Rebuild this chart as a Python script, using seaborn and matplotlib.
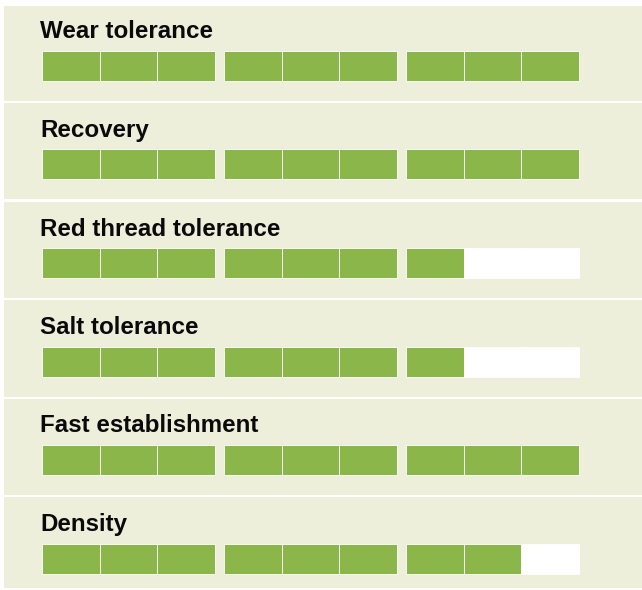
import matplotlib
matplotlib.use("Agg")
import matplotlib.pyplot as plt
import pandas as pd
import seaborn as sns

# ratings out of 9 for each trait
traits = ["Wear tolerance", "Recovery", "Red thread tolerance",
          "Salt tolerance", "Fast establishment", "Density"]
scores = [9, 9, 7, 7, 9, 8]
max_score = 9
group_size = 3

GREEN = "#8BB64A"
EMPTY = "#FFFFFF"
BG = "#EDEFDB"

W, H = 642, 590
seg_px = 57.67      # width of one segment in pixels
gap_px = 9          # extra space between groups of three
bar_h_px = 30
g = gap_px / seg_px

sns.set_style("white")
plt.rcParams["font.family"] = ["Liberation Sans", "DejaVu Sans"]

fig = plt.figure(figsize=(W / 100, H / 100), dpi=100, facecolor="white")

for i, (trait, score) in enumerate(zip(traits, scores)):
    ref = 4.5 + i * 98.5
    top_px = 6 if i == 0 else ref
    bot_px = min(ref + 96.5, 588)
    bar_top = ref + 46.5
    bar_bot = bar_top + bar_h_px

    ax = fig.add_axes([4 / W, 1 - bot_px / H, (W - 4) / W, (bot_px - top_px) / H])
    ax.set_facecolor(BG)

    df = pd.DataFrame({
        "pos": [(k // group_size) * (group_size + g) + k % group_size for k in range(max_score)],
        "value": [1] * max_score,
        "state": ["filled" if k < score else "empty" for k in range(max_score)],
    })
    sns.barplot(data=df, x="pos", y="value", hue="state",
                palette={"filled": GREEN, "empty": EMPTY},
                native_scale=True, dodge=False, width=1, saturation=1,
                edgecolor="white", linewidth=0.6, legend=False, ax=ax)

    left = -0.5 - (42 - 4) / seg_px
    ax.set_xlim(left, left + (W - 4) / seg_px)
    ax.set_ylim(-(bot_px - bar_bot) / bar_h_px, 1 + (bar_top - top_px) / bar_h_px)
    ax.set(xticks=[], yticks=[], xlabel="", ylabel="")
    for s in ax.spines.values():
        s.set_visible(False)

    ax.text(-0.5 - 2 / seg_px, 1 + (46.5 - 34) / bar_h_px, trait,
            fontsize=17.4, fontweight="bold", color="#0A0A0A",
            ha="left", va="baseline")

fig.savefig("out.png", dpi=100, facecolor="white")
